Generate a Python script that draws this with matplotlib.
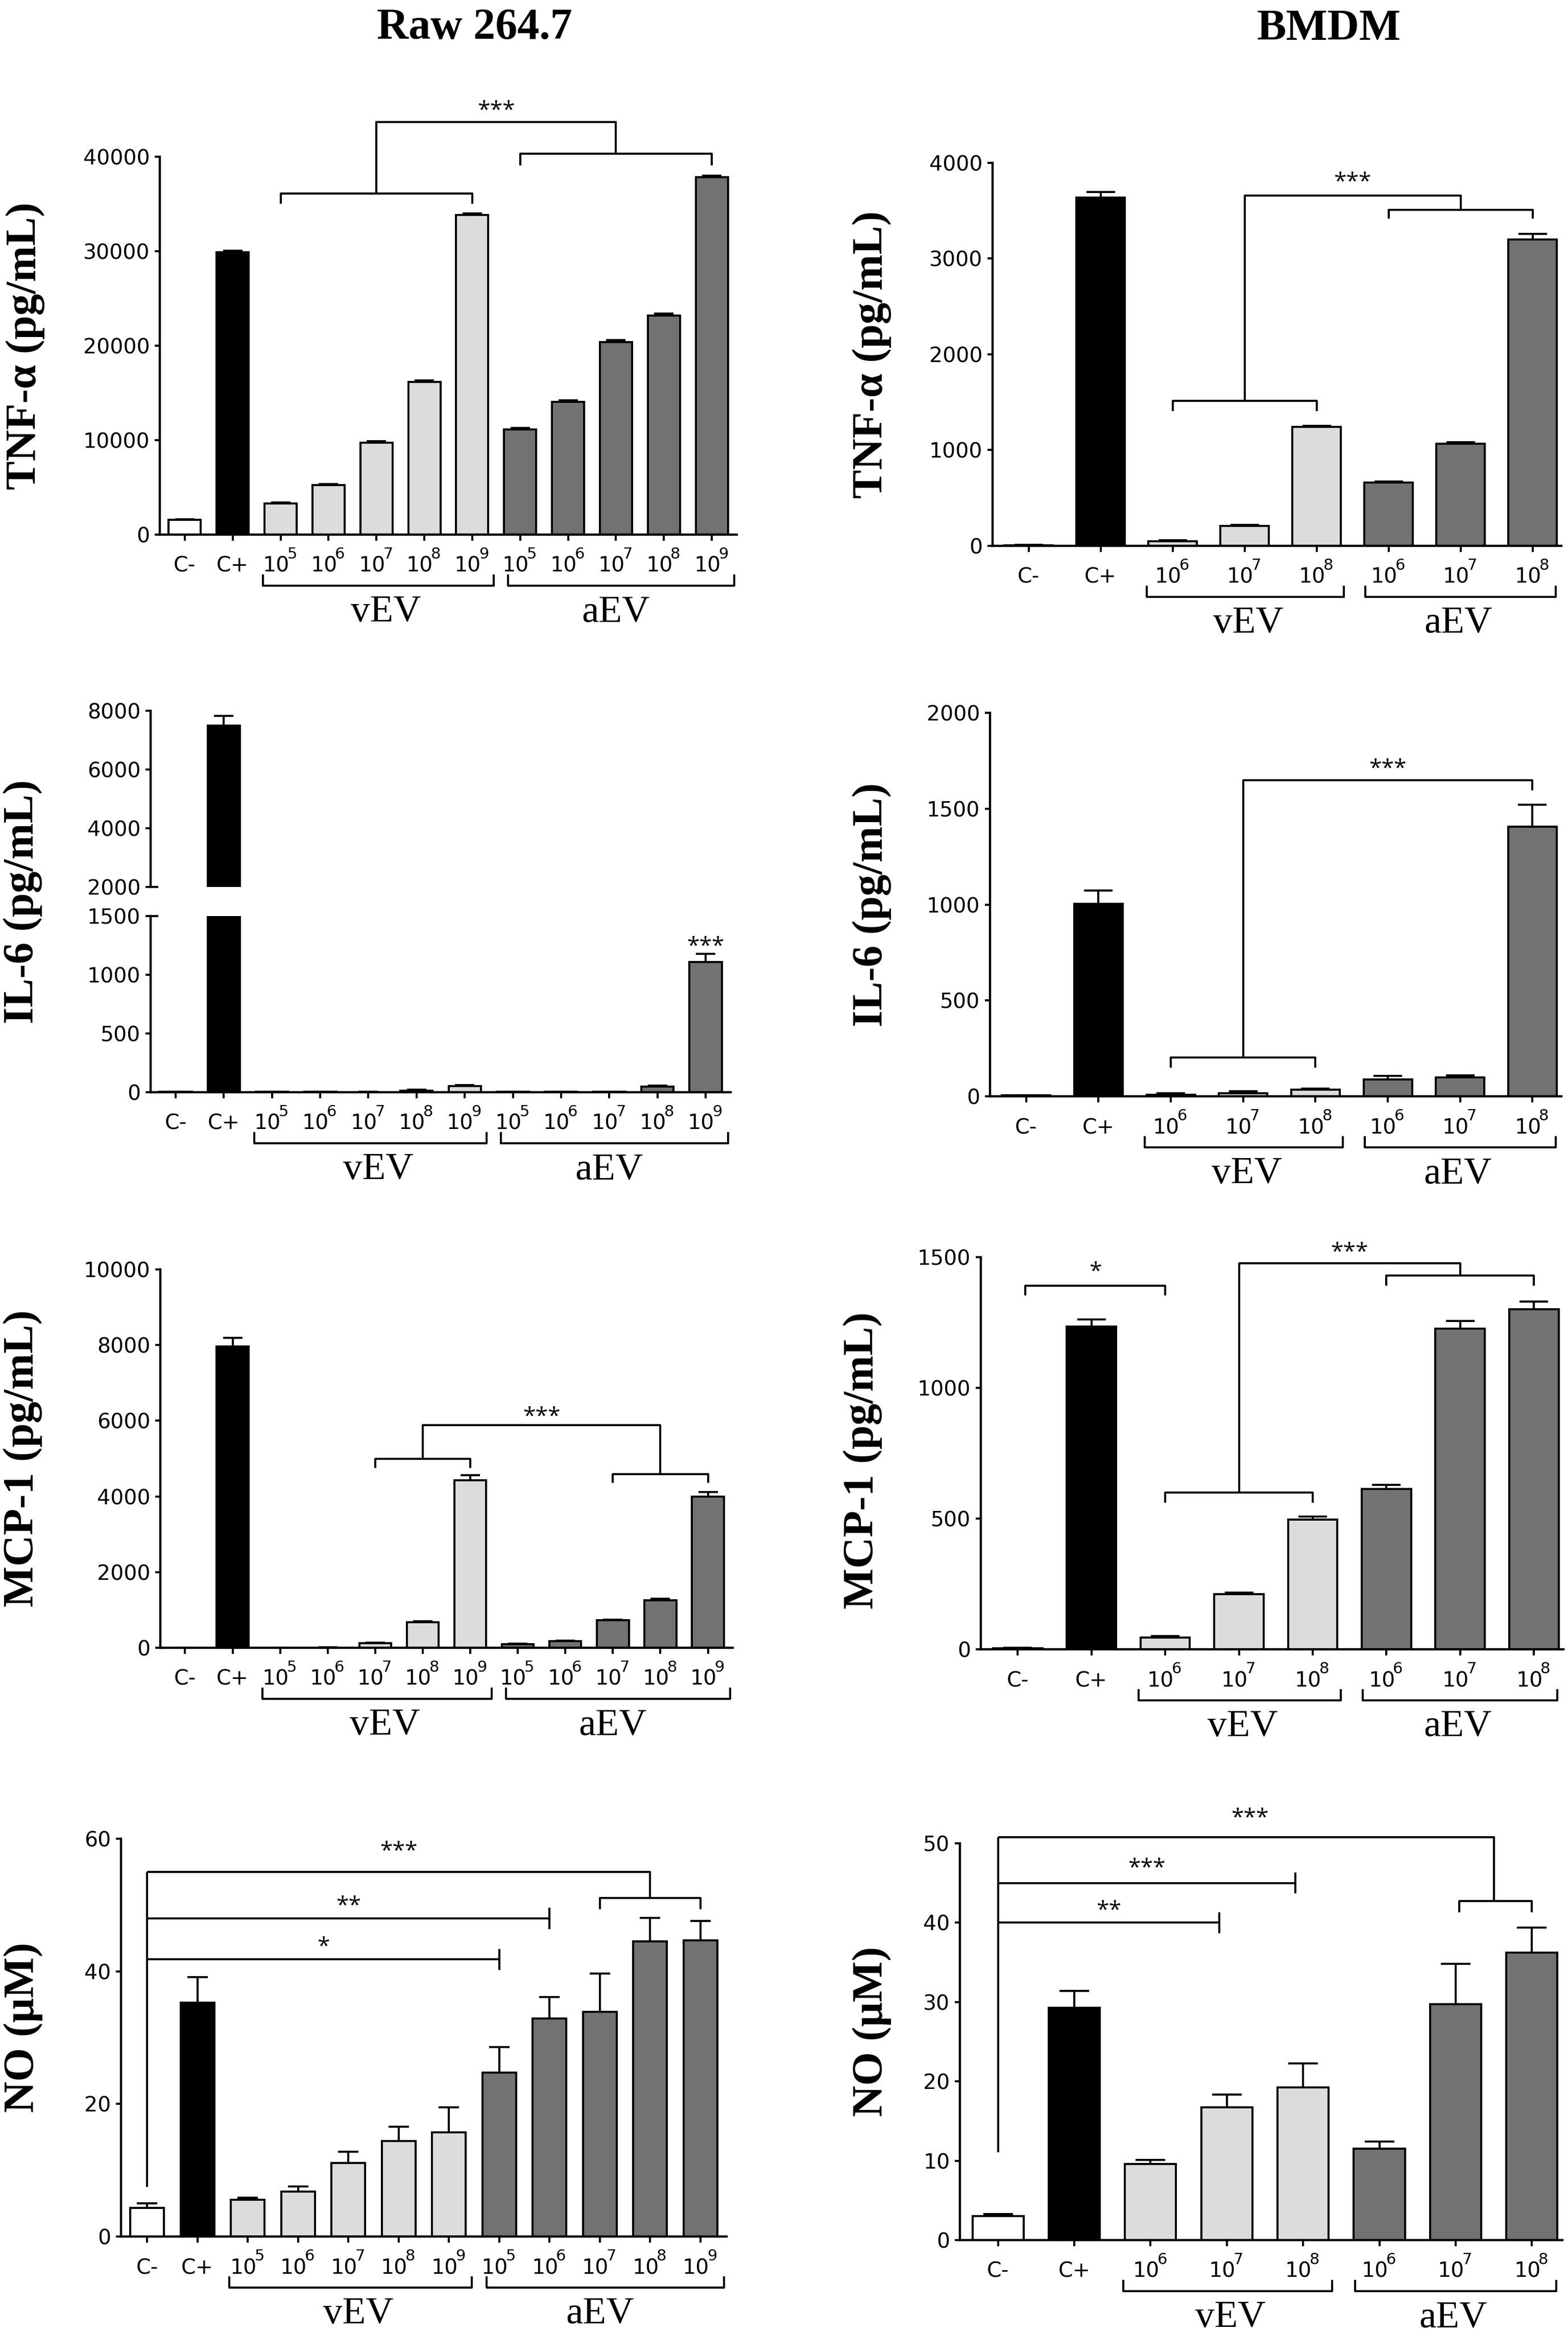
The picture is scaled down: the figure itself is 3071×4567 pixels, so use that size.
import numpy as np
import matplotlib
matplotlib.use('Agg')
import matplotlib.pyplot as plt

W, H = 3071, 4567
DPI = 100

plt.rcParams['font.family'] = ['DejaVu Sans']
plt.rcParams['mathtext.default'] = 'regular'

SERIF = ['Liberation Serif', 'DejaVu Serif']
STARFONT = ['Open Sans', 'DejaVu Sans']

# ---------------- data ----------------
raw_ticklabels = ['C-', 'C+', '10^5', '10^6', '10^7', '10^8', '10^9',
                  '10^5', '10^6', '10^7', '10^8', '10^9']
bmdm_ticklabels = ['C-', 'C+', '10^6', '10^7', '10^8', '10^6', '10^7', '10^8']
raw_kinds = ['neg', 'pos', 'v', 'v', 'v', 'v', 'v', 'a', 'a', 'a', 'a', 'a']
bmdm_kinds = ['neg', 'pos', 'v', 'v', 'v', 'a', 'a', 'a']
group_names = ['vEV', 'aEV']

raw_tnf = [1550, 29900, 3300, 5250, 9750, 16150, 33850, 11150, 14050, 20400, 23200, 37850]
raw_tnf_err = [80, 150, 120, 100, 120, 150, 150, 150, 150, 200, 200, 150]

bmdm_tnf = [5, 3640, 50, 210, 1240, 660, 1065, 3200]
bmdm_tnf_err = [3, 55, 10, 8, 15, 10, 15, 60]

raw_il6 = [3, 7500, 3, 3, 2, 12, 52, 3, 3, 3, 46, 1108]
raw_il6_err = [1, 320, 1, 1, 1, 8, 10, 1, 1, 1, 10, 72]

bmdm_il6 = [4, 1005, 7, 17, 34, 88, 99, 1405]
bmdm_il6_err = [2, 68, 9, 9, 5, 19, 11, 116]

raw_mcp = [2, 7960, 3, 5, 120, 672, 4420, 95, 180, 729, 1260, 3990]
raw_mcp_err = [1, 230, 1, 2, 10, 28, 140, 10, 12, 15, 38, 130]

bmdm_mcp = [3, 1235, 44, 210, 496, 614, 1227, 1300]
bmdm_mcp_err = [2, 26, 7, 7, 11, 14, 28, 31]

raw_no = [4.3, 35.3, 5.56, 6.8, 11.1, 14.4, 15.7, 24.7, 32.9, 33.9, 44.5, 44.7]
raw_no_err = [0.7, 3.8, 0.3, 0.75, 1.7, 2.15, 3.8, 3.9, 3.2, 5.8, 3.6, 2.9]

bmdm_no = [3.0, 29.3, 9.6, 16.75, 19.25, 11.5, 29.7, 36.2]
bmdm_no_err = [0.3, 2.1, 0.5, 1.6, 3.0, 0.9, 5.1, 3.2]

# significance annotations: polylines (x list, y list) and star labels (x, y, text)
p1_lines = [([2, 2, 6, 6], [35000, 36100, 36100, 35000]),
            ([7, 7, 11, 11], [39100, 40300, 40300, 39100]),
            ([4, 4, 9, 9], [36100, 43700, 43700, 40300])]
p1_stars = [(6.5, 45600, '***')]

p2_lines = [([2, 2, 4, 4], [1410, 1515, 1515, 1410]),
            ([5, 5, 7, 7], [3420, 3510, 3510, 3420]),
            ([3, 3, 6, 6], [1515, 3660, 3660, 3510])]
p2_stars = [(4.5, 3870, '***')]

p3_stars = [(11, 1300, '***')]

p4_lines = [([2, 2, 4, 4], [150, 202, 202, 150]),
            ([3, 3, 7, 7], [202, 1648, 1648, 1596])]
p4_stars = [(5, 1742, '***')]

p5_lines = [([4, 4, 6, 6], [4744, 5000, 5000, 4744]),
            ([9, 9, 11, 11], [4356, 4593, 4593, 4356]),
            ([5, 5, 10, 10], [5000, 5880, 5880, 4593])]
p5_stars = [(7.5, 6278, '***')]

p6_lines = [([0.1, 0.1, 2, 2], [1353, 1390, 1390, 1353]),
            ([2, 2, 4, 4], [561, 599, 599, 561]),
            ([5, 5, 7, 7], [1390, 1429, 1429, 1390]),
            ([3, 3, 6, 6], [599, 1477, 1477, 1429])]
p6_stars = [(1.05, 1470, '*'), (4.5, 1545, '***')]

p7_lines = [([0, 0], [7.5, 55.0]),
            ([0, 7], [41.8, 41.8]), ([7, 7], [40.2, 43.4]), ([0, 0], [40.2, 43.4]),
            ([0, 8], [48.0, 48.0]), ([8, 8], [46.4, 49.6]), ([0, 0], [46.4, 49.6]),
            ([0, 10, 10], [55.0, 55.0, 51.1]),
            ([9, 9, 11, 11], [49.4, 51.1, 51.1, 49.4])]
p7_stars = [(3.5, 44.7, '*'), (4, 50.9, '**'), (5, 59.1, '***')]

p8_lines = [([0, 0], [11.1, 50.8]),
            ([0, 2.9], [40.0, 40.0]), ([2.9, 2.9], [38.7, 41.3]), ([0, 0], [38.7, 41.3]),
            ([0, 3.9], [45.0, 45.0]), ([3.9, 3.9], [43.7, 46.3]), ([0, 0], [43.7, 46.3]),
            ([0, 6.5, 6.5], [50.8, 50.8, 42.7]),
            ([6.05, 6.05, 7, 7], [41.3, 42.7, 42.7, 41.3])]
p8_stars = [(1.45, 42.4, '**'), (1.95, 47.7, '***'), (3.3, 54.0, '***')]

# ---------------- style ----------------
COLORS = {'neg': 'white', 'pos': 'black', 'v': '#dcdcdc', 'a': '#727272'}
LW = 2.9
PT = 72.0 / DPI  # points per pixel
TICKFS = 29.5
SUPFS = 22

fig = plt.figure(figsize=(W / DPI, H / DPI), dpi=DPI)
fig.patch.set_facecolor('white')


def make_axes(left, right, top, bottom):
    return fig.add_axes([left / W, 1 - bottom / H, (right - left) / W, (bottom - top) / H])


def style_axes(ax, ylim, yticks, xlim, n, show_x=True):
    ax.set_xlim(*xlim)
    ax.set_ylim(*ylim)
    ax.set_yticks(yticks)
    ax.set_yticklabels([str(t) for t in yticks])
    for s in ['top', 'right']:
        ax.spines[s].set_visible(False)
    ax.spines['left'].set_linewidth(3.2)
    ax.spines['bottom'].set_linewidth(3.2)
    ax.tick_params(axis='y', direction='out', length=10 * PT, width=LW,
                   labelsize=TICKFS, pad=7)
    if show_x:
        ax.set_xticks(range(n))
        ax.set_xticklabels([''] * n)
        ax.tick_params(axis='x', direction='out', length=12 * PT, width=LW)
    else:
        ax.spines['bottom'].set_visible(False)
        ax.set_xticks([])
    ax.patch.set_alpha(0)


def draw_bars(ax, vals, errs, kinds, cap_px):
    x = np.arange(len(vals))
    ax.bar(x, vals, width=0.67, color=[COLORS[k] for k in kinds],
           edgecolor='black', linewidth=LW, zorder=2)
    ax.errorbar(x, vals, yerr=[np.zeros(len(vals)), errs], fmt='none',
                ecolor='black', elinewidth=LW, capsize=cap_px * PT,
                capthick=LW, zorder=3)


def tick_label(ax, i, lab):
    base_y = -73 * PT
    if '^' in lab:
        b, e = lab.split('^')
        # base digits right-aligned slightly right of the tick, exponent after it
        ax.annotate(b, xy=(i, 0), xycoords=('data', 'axes fraction'),
                    xytext=(17 * PT, base_y), textcoords='offset points',
                    ha='right', va='baseline', fontsize=TICKFS,
                    annotation_clip=False)
        ax.annotate(e, xy=(i, 0), xycoords=('data', 'axes fraction'),
                    xytext=(13 * PT, base_y + 26 * PT), textcoords='offset points',
                    ha='left', va='baseline', fontsize=SUPFS,
                    annotation_clip=False)
    else:
        ax.annotate(lab, xy=(i, 0), xycoords=('data', 'axes fraction'),
                    xytext=(0, base_y), textcoords='offset points',
                    ha='center', va='baseline', fontsize=TICKFS,
                    annotation_clip=False)


def xlabels(ax, labels, spans, centers):
    for i, lab in enumerate(labels):
        tick_label(ax, i, lab)
    trans = ax.get_xaxis_transform()
    h = ax.get_position().height * H
    y_line = -100 / h
    y_leg = -78 / h
    for (a, b), c, name in zip(spans, centers, group_names):
        ax.plot([a, a, b, b], [y_leg, y_line, y_line, y_leg], color='black',
                lw=LW, transform=trans, clip_on=False, solid_capstyle='butt')
        ax.annotate(name, xy=(c, 0), xycoords=('data', 'axes fraction'),
                    xytext=(0, -170 * PT), textcoords='offset points',
                    ha='center', va='baseline', fontsize=54, family=SERIF,
                    annotation_clip=False)


def sig(ax, lines, stars):
    for xs, ys in lines:
        ax.plot(xs, ys, color='black', lw=LW, clip_on=False, zorder=4,
                solid_capstyle='butt')
    for x, y, t in stars:
        ax.annotate(t, xy=(x, y), xytext=(0, -18), textcoords='offset points',
                    ha='center', va='baseline', fontsize=32, family=STARFONT,
                    annotation_clip=False)


def ylabel(x, y, text):
    fig.text(x / W, 1 - y / H, text, rotation=90, ha='center', va='center',
             fontsize=61, fontweight='bold', family=SERIF)


LX = (-0.52, 11.52)
RX = (-0.5, 7.4)
left_spans = [(1.63, 6.45), (6.75, 11.47)]
right_spans = [(1.64, 4.38), (4.68, 7.32)]
left_centers = [4.2, 9.0]
right_centers = [3.05, 5.97]

# ---------- Panel 1: Raw TNF ----------
ax1 = make_axes(313, 1443, 307, 1047)
style_axes(ax1, (0, 40000), [0, 10000, 20000, 30000, 40000], LX, 12)
draw_bars(ax1, raw_tnf, raw_tnf_err, raw_kinds, 19)
xlabels(ax1, raw_ticklabels, left_spans, left_centers)
sig(ax1, p1_lines, p1_stars)
ylabel(50, 677, 'TNF-α (pg/mL)')

# ---------- Panel 2: BMDM TNF ----------
ax2 = make_axes(1944, 3058, 319, 1069)
style_axes(ax2, (0, 4000), [0, 1000, 2000, 3000, 4000], RX, 8)
draw_bars(ax2, bmdm_tnf, bmdm_tnf_err, bmdm_kinds, 28)
xlabels(ax2, bmdm_ticklabels, right_spans, right_centers)
sig(ax2, p2_lines, p2_stars)
ylabel(1708, 694, 'TNF-α (pg/mL)')

# ---------- Panel 3: Raw IL-6 (broken axis) ----------
ax3 = make_axes(295, 1431, 1794, 2139)
style_axes(ax3, (0, 1500), [0, 500, 1000, 1500], LX, 12)
draw_bars(ax3, raw_il6, raw_il6_err, raw_kinds, 19)
xlabels(ax3, raw_ticklabels, left_spans, left_centers)
sig(ax3, [], p3_stars)
ax3u = make_axes(295, 1431, 1392, 1737)
style_axes(ax3u, (2000, 8000), [2000, 4000, 6000, 8000], LX, 12, show_x=False)
draw_bars(ax3u, raw_il6, raw_il6_err, raw_kinds, 19)
for a, yv in [(ax3, 1500), (ax3u, 2000)]:
    tr = a.get_yaxis_transform()
    a.plot([0, 15 / 1136], [yv, yv], color='black', lw=LW, transform=tr,
           clip_on=False, solid_capstyle='butt')
ylabel(45, 1766, 'IL-6 (pg/mL)')

# ---------- Panel 4: BMDM IL-6 ----------
ax4 = make_axes(1939, 3058, 1396, 2147)
style_axes(ax4, (0, 2000), [0, 500, 1000, 1500, 2000], RX, 8)
draw_bars(ax4, bmdm_il6, bmdm_il6_err, bmdm_kinds, 28)
xlabels(ax4, bmdm_ticklabels, right_spans, right_centers)
sig(ax4, p4_lines, p4_stars)
ylabel(1708, 1772, 'IL-6 (pg/mL)')

# ---------- Panel 5: Raw MCP-1 ----------
ax5 = make_axes(314, 1435, 2486, 3227)
style_axes(ax5, (0, 10000), [0, 2000, 4000, 6000, 8000, 10000], LX, 12)
draw_bars(ax5, raw_mcp, raw_mcp_err, raw_kinds, 19)
xlabels(ax5, raw_ticklabels, left_spans, left_centers)
sig(ax5, p5_lines, p5_stars)
ylabel(45, 2856, 'MCP-1 (pg/mL)')

# ---------- Panel 6: BMDM MCP-1 ----------
ax6 = make_axes(1921, 3062, 2462, 3230)
style_axes(ax6, (0, 1500), [0, 500, 1000, 1500], RX, 8)
draw_bars(ax6, bmdm_mcp, bmdm_mcp_err, bmdm_kinds, 28)
xlabels(ax6, bmdm_ticklabels, right_spans, right_centers)
sig(ax6, p6_lines, p6_stars)
ylabel(1690, 2860, 'MCP-1 (pg/mL)')

# ---------- Panel 7: Raw NO ----------
ax7 = make_axes(237, 1423, 3601, 4380)
style_axes(ax7, (0, 60), [0, 20, 40, 60], LX, 12)
draw_bars(ax7, raw_no, raw_no_err, raw_kinds, 20)
xlabels(ax7, raw_ticklabels, left_spans, left_centers)
sig(ax7, p7_lines, p7_stars)
ylabel(45, 3970, 'NO (μM)')

# ---------- Panel 8: BMDM NO ----------
ax8 = make_axes(1880, 3060, 3610, 4387)
style_axes(ax8, (0, 50), [0, 10, 20, 30, 40, 50], RX, 8)
draw_bars(ax8, bmdm_no, bmdm_no_err, bmdm_kinds, 29)
xlabels(ax8, bmdm_ticklabels, right_spans, right_centers)
sig(ax8, p8_lines, p8_stars)
ylabel(1708, 3978, 'NO (μM)')

# ---------- titles ----------
fig.text(929 / W, 1 - 76 / H, 'Raw 264.7', ha='center', va='baseline',
         fontsize=62, fontweight='bold', family=SERIF)
fig.text(2603 / W, 1 - 78 / H, 'BMDM', ha='center', va='baseline',
         fontsize=62, fontweight='bold', family=SERIF)

fig.savefig('out.png', dpi=DPI, facecolor='white')
